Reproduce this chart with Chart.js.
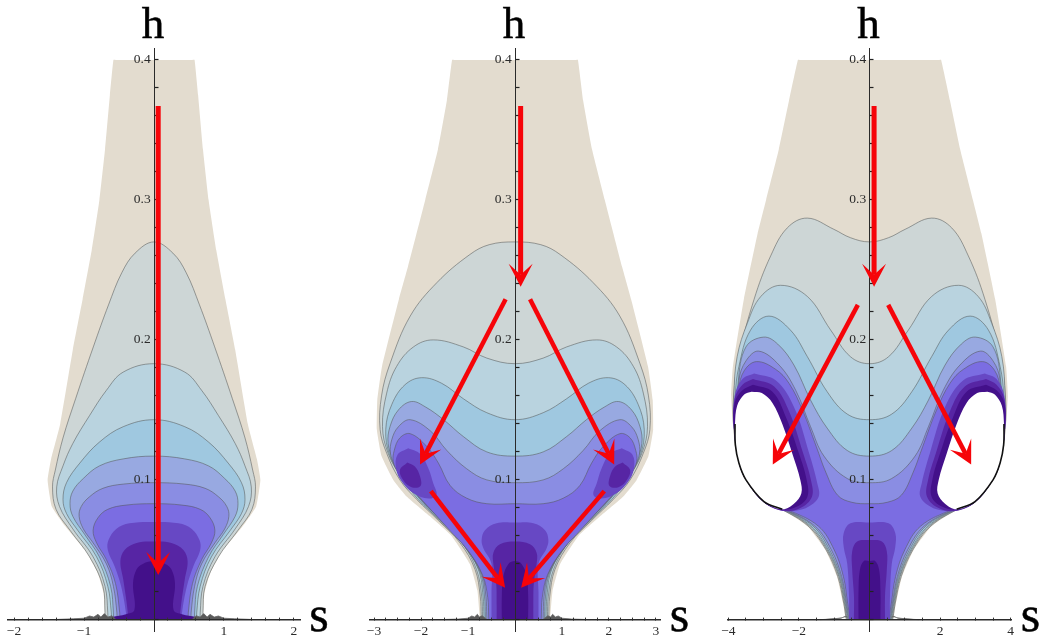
<!DOCTYPE html>
<html><head><meta charset="utf-8">
<style>html,body{margin:0;padding:0;background:#fff;width:1045px;height:642px;overflow:hidden}
canvas{position:absolute;top:0;filter:blur(.4px)}</style>
<script src="https://cdn.jsdelivr.net/npm/chart.js@4"></script>
</head><body>
<canvas id="c1" width="345" height="642" style="left:0"></canvas>
<canvas id="c2" width="355" height="642" style="left:345px"></canvas>
<canvas id="c3" width="345" height="642" style="left:700px"></canvas>
<script>
// Axis names
const yAxisName='h', xAxisName='s';
// Band colours, outermost to innermost
const bandColors=['#E3DCCF','#CDD6D6','#B9D3DF','#9FC8E0','#98A9E1','#8A8DE3','#7B6DE2','#6748C4','#5725A4','#43108A'];

// PANEL 1: right half of each contour [s,h]
const p1Outer=[[0,.4],[.55,.4],[.58,.4],[.63,.375],[.7,.336],[.78,.3],[.89,.264],[1.02,.229],[1.16,.193],[1.34,.14],[1.47,.115],[1.52,.1],[1.46,.081],[1.27,.067],[.96,.048],[.8,.033],[.72,.019],[.7,.004],[.7,0]];
const p1C1=[[0,.27],[.27,.262],[.46,.248],[.65,.225],[.867,.195],[1.12,.158],[1.3,.13],[1.41,.107],[1.45,.095],[1.4,.079],[1.2,.064],[.92,.045],[.73,.024],[.7,.005],[.7,0]];
const p1C2=[[0,.183],[.44,.177],[.68,.164],[.92,.146],[1.16,.126],[1.3,.11],[1.39,.095],[1.35,.081],[1.16,.065],[.87,.045],[.7,.024],[.66,.005],[.66,0]];
const p1C3=[[0,.143],[.44,.138],[.78,.127],[1.06,.112],[1.25,.098],[1.3,.086],[1.25,.076],[1.09,.064],[.82,.045],[.66,.024],[.61,.005],[.61,0]];
const p1C4=[[0,.117],[.44,.115],[.78,.11],[1.01,.101],[1.16,.092],[1.2,.083],[1.16,.074],[.99,.061],[.78,.045],[.62,.024],[.58,.005],[.58,0]];
const p1C5=[[0,.098],[.44,.097],[.73,.094],[.92,.088],[1.04,.081],[1.07,.074],[1.01,.065],[.87,.055],[.68,.04],[.58,.024],[.53,.005],[.53,0]];
const p1C6=[[0,.083],[.4,.082],[.66,.079],[.8,.073],[.87,.064],[.82,.055],[.68,.043],[.55,.026],[.49,.005],[.49,0]];
const p1C7=[[0,.07],[.35,.069],[.54,.065],[.65,.057],[.66,.05],[.56,.038],[.47,.024],[.4,.005],[.4,0]];
const p1C8=[[0,.056],[.25,.055],[.42,.05],[.48,.042],[.44,.029],[.39,.012],[.37,.002],[.37,0]];
const p1C9=[[0,.042],[.16,.04],[.25,.036],[.3,.026],[.28,.007],[.4,.004],[.6,.002],[.7,0]];
const p1Foot=[[.55,.0005],[.6,.003],[.66,.002],[.71,.0045],[.76,.002],[.8,.004],[.86,.002],[.92,.0028],[1,.0012],[1.15,.0008],[1.4,.0003]];
const p1Arrows=[[[.06,.367],[.06,.032]]];

// PANEL 2
const p2Outer=[[0,.4],[1.3,.4],[1.34,.4],[1.45,.371],[1.64,.336],[1.91,.3],[2.28,.252],[2.47,.229],[2.83,.181],[2.93,.157],[2.94,.136],[2.84,.117],[2.59,.1],[2.3,.088],[1.81,.074],[1.35,.06],[.96,.04],[.8,.021],[.75,.002],[.75,0]];
const p2C1=[[0,.27],[.55,.268],[.96,.261],[1.66,.241],[2.23,.217],[2.66,.183],[2.84,.16],[2.87,.136],[2.73,.119],[2.45,.1],[2.09,.086],[1.63,.071],[1.17,.055],[.85,.036],[.74,.017],[.72,.002],[.72,0]];
const p2C2=[[0,.183],[.6,.187],[1.1,.195],[1.74,.2],[2.16,.195],[2.52,.181],[2.73,.162],[2.82,.138],[2.7,.119],[2.42,.102],[2.06,.087],[1.6,.071],[1.13,.055],[.82,.036],[.71,.017],[.69,.002],[.69,0]];
const p2C3=[[0,.143],[.6,.148],[1.1,.158],[1.56,.169],[1.99,.173],[2.34,.168],[2.62,.154],[2.75,.136],[2.67,.118],[2.41,.102],[2.06,.086],[1.56,.07],[1.1,.054],[.78,.036],[.68,.017],[.66,.002],[.66,0]];
const p2C4=[[0,.117],[.6,.12],[1.1,.131],[1.52,.143],[1.9,.152],[2.2,.156],[2.48,.15],[2.66,.138],[2.7,.126],[2.59,.114],[2.34,.1],[1.99,.085],[1.51,.069],[1.06,.052],[.74,.034],[.65,.017],[.63,.002],[.63,0]];
const p2C5=[[0,.098],[.6,.1],[1.03,.108],[1.45,.121],[1.8,.135],[2.23,.143],[2.48,.138],[2.62,.129],[2.65,.119],[2.55,.11],[2.3,.099],[1.95,.084],[1.47,.068],[1.03,.051],[.71,.033],[.62,.017],[.6,.002],[.6,0]];
const p2C6=[[0,.083],[.6,.083],[1.03,.087],[1.38,.096],[1.63,.112],[1.88,.124],[2.23,.133],[2.45,.13],[2.57,.121],[2.59,.113],[2.48,.105],[2.23,.095],[1.88,.082],[1.42,.065],[.99,.049],[.69,.032],[.58,.016],[.56,.002],[.56,0]];
const p2C7=[[0,.0695],[.39,.069],[.64,.064],[.71,.057],[.67,.051],[.5,.04],[.5,.02],[.5,0]];
const p2C8=[[0,.056],[.32,.054],[.46,.048],[.46,.04],[.4,.026],[.39,.01],[.39,0]];
const p2C9=[[0,.042],[.14,.04],[.25,.031],[.28,.017],[.28,0]];
const p2LobeA=[[2.27,.1226],[2.02,.1186],[1.84,.108],[1.74,.0976],[1.67,.0893],[1.84,.0867],[2.16,.0905],[2.41,.0988],[2.53,.108],[2.5,.118]];
const p2LobeB=[[2.29,.1124],[2.13,.1095],[2.02,.1024],[2.01,.0957],[2.2,.0948],[2.38,.1],[2.45,.107]];
const p2Foot=[[.6,.0005],[.7,.003],[.76,.002],[.8,.004],[.86,.002],[.92,.0028],[1,.0012],[1.2,.0006],[1.6,.0002]];
const p2Arrows=[[[.12,.367],[.12,.238]],[[-.2,.229],[-2.02,.111]],[[.32,.229],[2.11,.111]],[[-1.79,.092],[-.21,.023]],[[1.9,.092],[.13,.023]]];

// PANEL 3
const p3Outer=[[0,.4],[1.98,.4],[2.03,.4],[2.28,.371],[2.57,.336],[2.93,.3],[3.17,.276],[3.56,.229],[3.87,.181],[3.92,.16],[3.87,.14],[3.82,.125],[3.71,.112],[3.51,.1],[3,.0845],[2.48,.079],[1.76,.067],[1.25,.05],[.92,.031],[.75,.012],[.68,.002],[.66,0]];
const p3C1=[[0,.27],[.54,.273],[1.01,.279],[1.76,.287],[2.33,.28],[2.8,.26],[3.27,.229],[3.7,.188],[3.85,.16],[3.84,.136],[3.68,.112],[3.35,.095],[2.92,.083],[2.5,.079],[1.74,.067],[1.23,.05],[.9,.031],[.73,.012],[.67,.002],[.65,0]];
const p3C2=[[0,.183],[.54,.188],[1.1,.207],[1.76,.231],[2.52,.239],[3.08,.231],[3.46,.212],[3.75,.188],[3.84,.16],[3.8,.136],[3.65,.112],[3.33,.095],[2.9,.083],[2.48,.079],[1.7,.067],[1.2,.05],[.87,.031],[.71,.012],[.65,.002],[.63,0]];
const p3C3=[[0,.143],[.63,.147],[1.2,.163],[1.76,.188],[2.24,.207],[2.85,.217],[3.37,.207],[3.7,.181],[3.8,.16],[3.76,.136],[3.6,.112],[3.3,.095],[2.88,.083],[2.45,.079],[1.66,.067],[1.17,.05],[.85,.031],[.69,.012],[.63,.002],[.61,0]];
const p3C4=[[0,.117],[.63,.121],[1.2,.137],[1.67,.157],[2.14,.182],[2.6,.197],[3,.202],[3.5,.195],[3.72,.17],[3.74,.14],[3.55,.112],[3.27,.095],[2.86,.083],[2.42,.079],[1.6,.067],[1.13,.05],[.82,.031],[.67,.012],[.61,.002],[.59,0]];
const p3C5=[[0,.098],[.63,.101],[1.29,.117],[1.67,.138],[2.09,.164],[2.56,.182],[3.14,.192],[3.5,.185],[3.7,.171],[3.72,.14],[3.5,.112],[3.25,.095],[2.84,.083],[2.4,.079],[1.55,.067],[1.08,.05],[.79,.031],[.65,.012],[.59,.002],[.57,0]];
const p3C6=[[0,.083],[.5,.084],[.9,.089],[1.23,.105],[1.51,.124],[1.9,.15],[2.28,.169],[2.66,.179],[3.2,.1845],[3.55,.178],[3.7,.165],[3.7,.14],[3.45,.112],[3.2,.095],[2.8,.083],[2.35,.079],[1.45,.067],[1,.05],[.74,.031],[.62,.012],[.56,.002],[.55,0]];
const p3C7=[[0,.0695],[.54,.069],[.73,.062],[.73,.052],[.63,.04],[.58,.017],[.58,0]];
const p3C8=[[0,.057],[.35,.056],[.49,.049],[.49,.036],[.44,.017],[.44,0]];
const p3C9=[[0,.042],[.16,.042],[.27,.036],[.31,.021],[.31,0]];
const p3CrescentA=[[3.27,.176],[2.65,.171],[2.14,.152],[1.71,.119],[1.48,.0976],[1.44,.088],[1.72,.081],[2.09,.078],[2.47,.078],[2.99,.084],[3.5,.1],[3.7,.112],[3.84,.136],[3.82,.16],[3.6,.172]];
const p3CrescentB=[[3.3,.172],[2.7,.1667],[2.28,.149],[1.88,.119],[1.66,.1],[1.63,.088],[1.96,.08],[2.47,.078],[2.99,.084],[3.5,.1],[3.7,.112],[3.84,.136],[3.82,.158],[3.6,.168]];
const p3CrescentC=[[3.3,.168],[2.75,.163],[2.37,.145],[2,.119],[1.78,.1],[1.76,.088],[2.05,.081],[2.47,.079],[2.99,.084],[3.5,.1],[3.7,.112],[3.84,.136],[3.82,.155],[3.6,.164]];
const p3Hole=[[3.34,.163],[3.55,.161],[3.75,.153],[3.81,.14],[3.8,.125],[3.7,.112],[3.5,.1],[2.99,.0845],[2.47,.079],[2.14,.083],[1.93,.0905],[1.96,.1],[2.19,.119],[2.47,.14],[2.75,.155],[3.05,.162]];
const p3HoleEdge=[[3.81,.14],[3.8,.125],[3.7,.112],[3.5,.1],[2.99,.0845],[2.47,.079]];
const p3Foot=[[.62,.002],[.7,.0025],[.8,.0012],[1,.0006],[1.4,.0002]];
const p3Arrows=[[[.13,.367],[.13,.238]],[[-.33,.225],[-2.74,.111]],[[.53,.225],[2.88,.111]]];

const toPts=a=>a.map(p=>({x:p[0],y:p[1]}));
const neg=a=>a.map(p=>[-p[0],p[1]]);
const mirror=a=>[...neg(a.slice(1)).reverse(),...a];
const closed=a=>[...a,a[0]];
const LINE='rgba(85,90,90,.55)';

function band(half,colorIdx,stroke,tension){
  return {data:toPts(mirror(half)),polyFill:bandColors[colorIdx],borderColor:LINE,borderWidth:stroke?1:0,tension:tension??.38};
}
function lobe(a,colorIdx){
  return {data:toPts(closed(a)),polyFill:bandColors[colorIdx],borderWidth:0,tension:.38};
}
function whiteHole(a){return {data:toPts(closed(a)),polyFill:'#fff',borderWidth:0,tension:.35};}
function edge(a){return {data:toPts(a),borderColor:'#111',borderWidth:1.6,tension:.35};}
function foot(a){return {data:toPts(a),polyFill:'#5a5a5a',borderColor:'#666',borderWidth:.8,tension:0};}
function arrow(a){
  const vertical=a[0][0]===a[1][0];
  return {data:toPts(a),isArrow:true,borderColor:'#F60409',borderWidth:vertical?5:4.5,tension:0};
}

const set1=[band(p1Outer,0,false,.12),band(p1C1,1,true),band(p1C2,2,true),band(p1C3,3,true),band(p1C4,4,true),band(p1C5,5,true),band(p1C6,6,true),band(p1C7,7,false),band(p1C8,8,false),band(p1C9,9,false),foot(p1Foot),foot(neg(p1Foot)),...p1Arrows.map(arrow)];
const set2=[band(p2Outer,0,false,.12),band(p2C1,1,true),band(p2C2,2,true),band(p2C3,3,true),band(p2C4,4,true),band(p2C5,5,true),band(p2C6,6,true),lobe(p2LobeA,7),lobe(neg(p2LobeA),7),lobe(p2LobeB,8),lobe(neg(p2LobeB),8),band(p2C7,7,false),band(p2C8,8,false),band(p2C9,9,false),foot(p2Foot),foot(neg(p2Foot)),...p2Arrows.map(arrow)];
const set3=[band(p3Outer,0,false,.12),band(p3C1,1,true),band(p3C2,2,true),band(p3C3,3,true),band(p3C4,4,true),band(p3C5,5,true),band(p3C6,6,true),
  lobe(p3CrescentA,7),lobe(neg(p3CrescentA),7),lobe(p3CrescentB,8),lobe(neg(p3CrescentB),8),lobe(p3CrescentC,9),lobe(neg(p3CrescentC),9),
  whiteHole(p3Hole),whiteHole(neg(p3Hole)),edge(p3HoleEdge),edge(neg(p3HoleEdge)),
  band(p3C7,7,false),band(p3C8,8,false),band(p3C9,9,false),foot(p3Foot),foot(neg(p3Foot)),...p3Arrows.map(arrow)];

const painter={
  id:'painter',
  beforeDatasetDraw(chart,args){
    const ds=chart.data.datasets[args.index];
    if(ds.isArrow) return false;
    if(ds.polyFill){
      const c=chart.ctx;c.save();c.beginPath();
      args.meta.dataset.path(c);c.closePath();
      c.fillStyle=ds.polyFill;c.fill();c.restore();
    }
  },
  afterDraw(chart){
    const c=chart.ctx;
    chart.data.datasets.forEach((ds,i)=>{
      if(!ds.isArrow) return;
      const pts=chart.getDatasetMeta(i).data, a=pts[0], b=pts[1];
      const ang=Math.atan2(b.y-a.y,b.x-a.x), L=23, W=12, N=12;
      c.save();c.translate(b.x,b.y);c.rotate(ang);
      const len=Math.hypot(b.x-a.x,b.y-a.y);
      c.strokeStyle=ds.borderColor;c.lineWidth=ds.borderWidth;c.beginPath();c.moveTo(-len,0);c.lineTo(-N,0);c.stroke();
      c.fillStyle=ds.borderColor;c.beginPath();c.moveTo(0,0);c.lineTo(-L,-W);c.lineTo(-N,0);c.lineTo(-L,W);c.closePath();c.fill();
      c.restore();
    });
    const sx=chart.scales.x;
    c.save();c.fillStyle='#000';c.strokeStyle='#000';c.lineWidth=.5;c.textAlign='center';c.textBaseline='alphabetic';
    c.font='45px "Liberation Serif"';c.fillText(yAxisName,sx.getPixelForValue(0)-1,38);c.strokeText(yAxisName,sx.getPixelForValue(0)-1,38);
    c.font='50px "Liberation Serif"';c.fillText(xAxisName,sx.right+19,631);c.strokeText(xAxisName,sx.right+19,631);
    c.restore();
  }
};

function make(id,datasets,xmax,step,padL,padR){
  const font={family:'"Liberation Serif"',size:13.5};
  const list=datasets.map((d,i)=>Object.assign({showLine:true,pointRadius:0,pointHoverRadius:0,fill:false,order:datasets.length-i},d));
  return new Chart(document.getElementById(id),{
    type:'scatter',
    data:{datasets:list},
    plugins:[painter],
    options:{
      responsive:false,animation:false,events:[],
      layout:{padding:{left:padL,right:padR,top:48,bottom:10.2}},
      plugins:{legend:{display:false},tooltip:{enabled:false},title:{display:false}},
      scales:{
        x:{type:'linear',position:{y:0},min:-xmax,max:xmax,
          afterFit:s=>{s.height=0;s.paddingLeft=0;s.paddingRight=0;},
          grid:{drawOnChartArea:false,tickLength:-3,tickColor:'#333',z:1},
          border:{color:'#2a2a2a',width:1.6,z:1},
          ticks:{stepSize:step,includeBounds:false,autoSkip:false,maxRotation:0,padding:6,font,color:'#2a2a2a',z:1,
            callback:v=>(Math.abs(v-Math.round(v))<1e-6&&Math.round(v)!==0&&(step<.5||Math.round(v)%2===0))?String(Math.round(v)).replace('-','\u2212'):''}},
        y:{type:'linear',position:{x:0},min:-.0085,max:.4085,
          afterFit:s=>{s.width=0;},
          grid:{drawOnChartArea:false,tickLength:-4.5,tickColor:'#222',tickWidth:1.2,z:1},
          border:{color:'#2a2a2a',width:1,z:1},
          ticks:{stepSize:.02,includeBounds:false,autoSkip:false,font,color:'#2a2a2a',z:1,padding:0,
            callback:v=>{const t=Math.round(v*100);return (t>0&&t%10===0)?(t/100).toFixed(1)+' ':'';}}}
      }
    }
  });
}
make('c1',set1,2.086,.2,8,45);
make('c2',set2,3.096,.25,24.5,39.5);
make('c3',set3,4.023,.5,27.5,33.5);
</script>
</body></html>
